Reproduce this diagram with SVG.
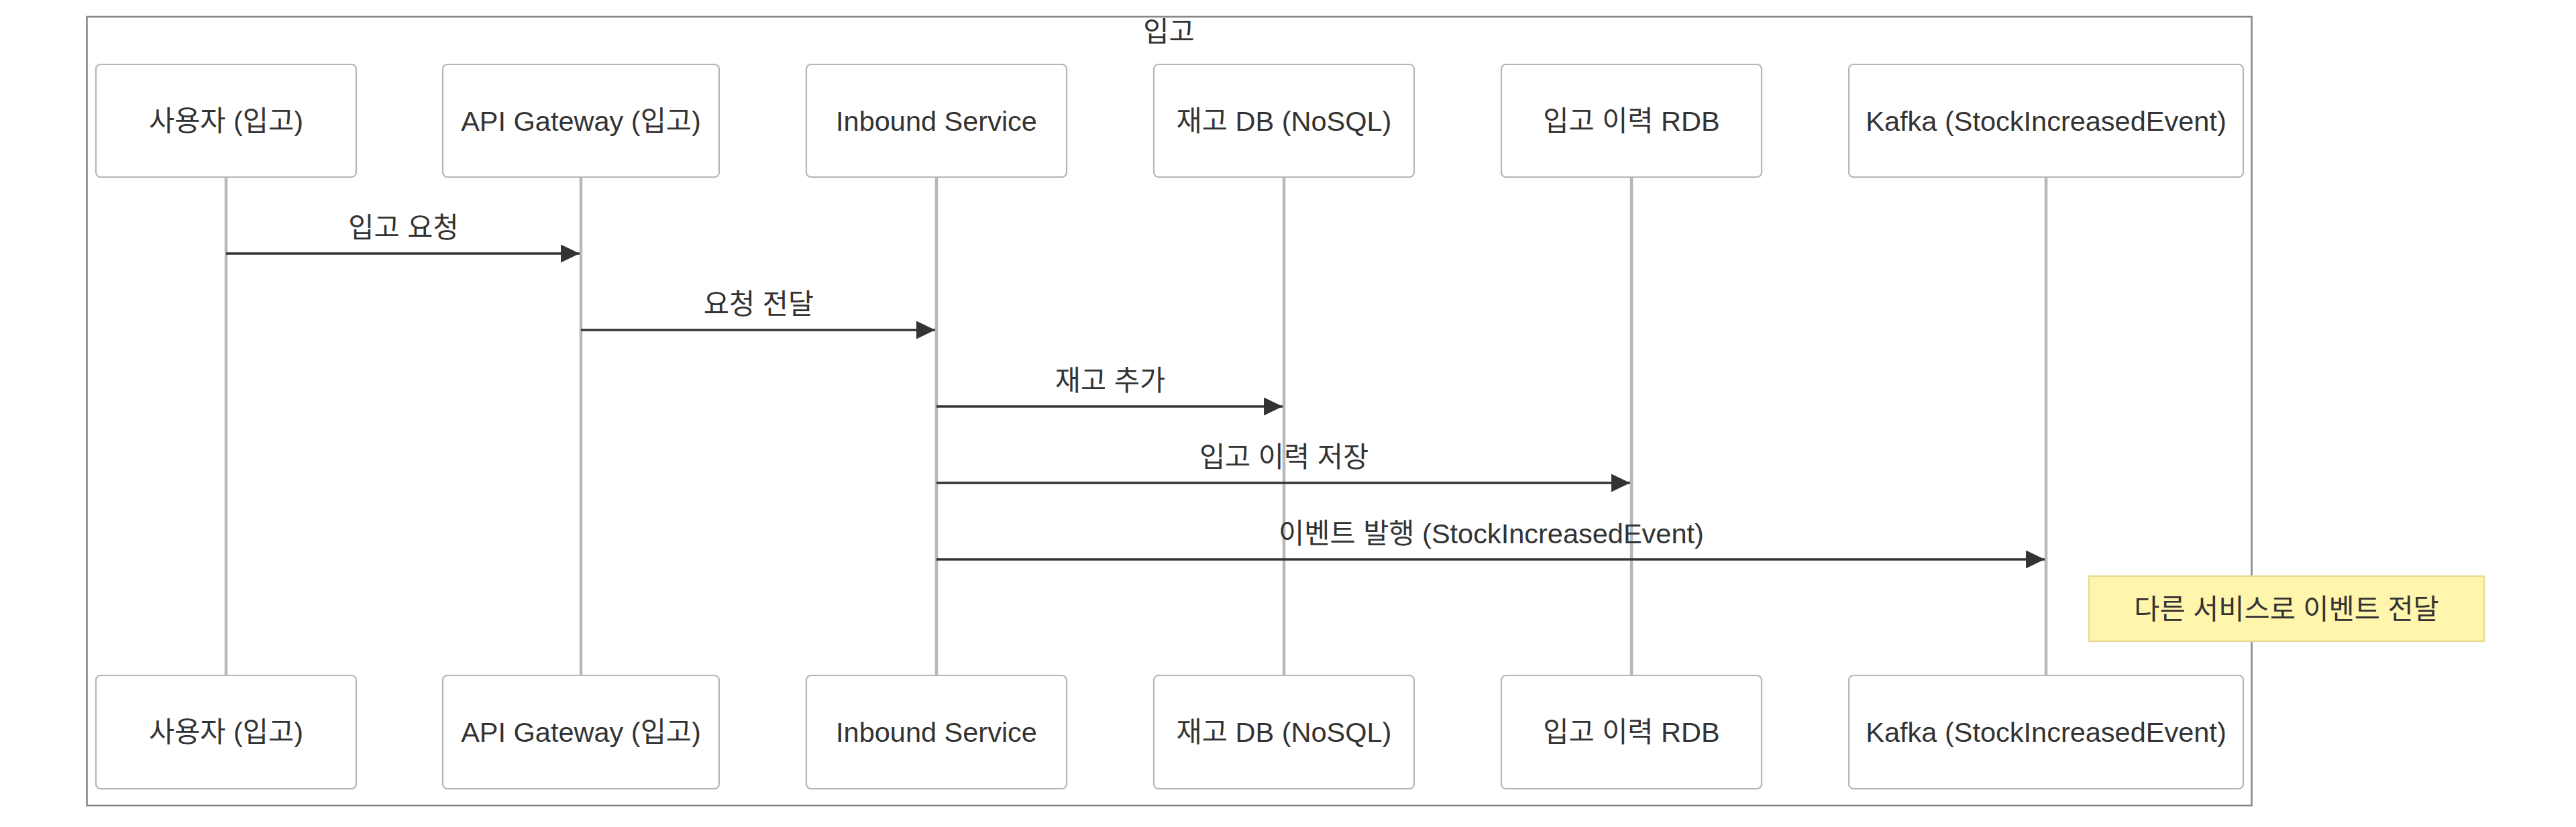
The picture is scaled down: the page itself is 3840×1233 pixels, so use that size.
<svg xmlns="http://www.w3.org/2000/svg" width="3840" height="1233" viewBox="0 0 3840 1233">
<defs>
<style>
text{font-family:"Liberation Sans","Noto Sans CJK KR",sans-serif;fill:#333;text-anchor:middle}
.actor rect{fill:#fff;stroke:#b5b5b5;stroke-width:2.2}
.actor text{font-size:41.5px}
.life{stroke:#b8b8b8;stroke-width:4.5}
.msg{stroke:#333;stroke-width:3.3;fill:none;marker-end:url(#arrow)}
.lbl{font-size:41.5px}
</style>
<marker id="arrow" viewBox="0 0 28 27" refX="28" refY="13.5" markerWidth="28" markerHeight="27" markerUnits="userSpaceOnUse" orient="auto">
<path d="M0,0 L28,13.5 L0,27 z" fill="#333"/>
</marker>
</defs>
<rect width="3840" height="1233" fill="#fff"/>
<g id="frame">
<rect x="129.5" y="25" width="3227" height="1176" fill="none" stroke="#888" stroke-width="2.6"/>
<text x="1742.5" y="62" style="font-size:41.5px">입고</text>
</g>
<g id="lifelines">
<line class="life" x1="337" y1="264" x2="337" y2="1007"/>
<line class="life" x1="866" y1="264" x2="866" y2="1007"/>
<line class="life" x1="1396" y1="264" x2="1396" y2="1007"/>
<line class="life" x1="1914" y1="264" x2="1914" y2="1007"/>
<line class="life" x1="2432" y1="264" x2="2432" y2="1007"/>
<line class="life" x1="3050" y1="264" x2="3050" y2="1007"/>
</g>
<g id="actor-user" class="actor">
<rect x="143" y="96" width="388" height="168" rx="7"/>
<text x="337" y="195">사용자 (입고)</text>
<rect x="143" y="1007" width="388" height="169" rx="7"/>
<text x="337" y="1106">사용자 (입고)</text>
</g>
<g id="actor-gateway" class="actor">
<rect x="660" y="96" width="412" height="168" rx="7"/>
<text x="866" y="195">API Gateway (입고)</text>
<rect x="660" y="1007" width="412" height="169" rx="7"/>
<text x="866" y="1106">API Gateway (입고)</text>
</g>
<g id="actor-inbound" class="actor">
<rect x="1202" y="96" width="388" height="168" rx="7"/>
<text x="1396" y="195">Inbound Service</text>
<rect x="1202" y="1007" width="388" height="169" rx="7"/>
<text x="1396" y="1106">Inbound Service</text>
</g>
<g id="actor-stockdb" class="actor">
<rect x="1720" y="96" width="388" height="168" rx="7"/>
<text x="1914" y="195">재고 DB (NoSQL)</text>
<rect x="1720" y="1007" width="388" height="169" rx="7"/>
<text x="1914" y="1106">재고 DB (NoSQL)</text>
</g>
<g id="actor-historydb" class="actor">
<rect x="2238" y="96" width="388" height="168" rx="7"/>
<text x="2432" y="195">입고 이력 RDB</text>
<rect x="2238" y="1007" width="388" height="169" rx="7"/>
<text x="2432" y="1106">입고 이력 RDB</text>
</g>
<g id="actor-kafka" class="actor">
<rect x="2756" y="96" width="588" height="168" rx="7"/>
<text x="3050" y="195">Kafka (StockIncreasedEvent)</text>
<rect x="2756" y="1007" width="588" height="169" rx="7"/>
<text x="3050" y="1106">Kafka (StockIncreasedEvent)</text>
</g>
<g id="messages">
<line class="msg" x1="337" y1="378" x2="864" y2="378"/>
<text class="lbl" x="601.5" y="354">입고 요청</text>
<line class="msg" x1="866" y1="492" x2="1394" y2="492"/>
<text class="lbl" x="1131" y="468">요청 전달</text>
<line class="msg" x1="1396" y1="606" x2="1912" y2="606"/>
<text class="lbl" x="1655" y="582">재고 추가</text>
<line class="msg" x1="1396" y1="720" x2="2430" y2="720"/>
<text class="lbl" x="1914" y="696">입고 이력 저장</text>
<line class="msg" x1="1396" y1="834" x2="3048" y2="834"/>
<text class="lbl" x="2223" y="810">이벤트 발행 (StockIncreasedEvent)</text>
</g>
<g id="note">
<rect x="3114" y="859" width="589" height="97" fill="#fff5ad" stroke="#e6dc96" stroke-width="2.4"/>
<text x="3408.5" y="923" style="font-size:41.5px">다른 서비스로 이벤트 전달</text>
</g>
</svg>
